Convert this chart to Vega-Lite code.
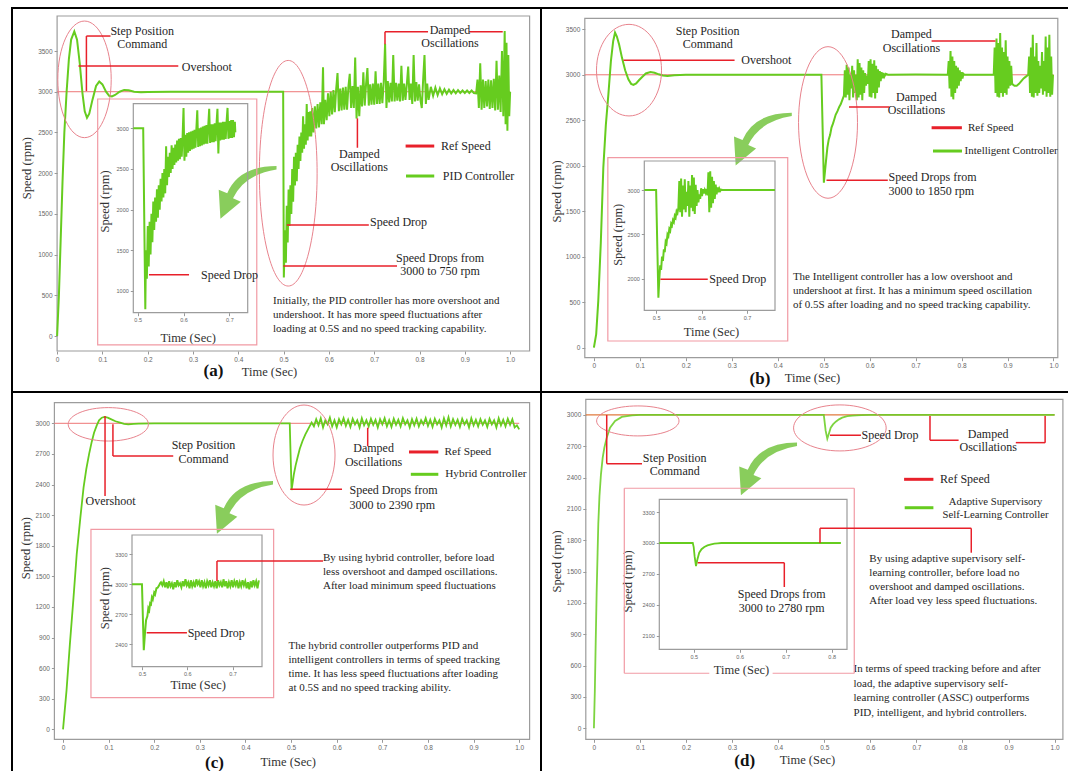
{
"$schema":"https://vega.github.io/schema/vega-lite/v6.json",
"background":"white",
"padding":{"left":11,"top":7,"right":0,"bottom":0},
"bounds":"flush",
"spacing":0,
"columns":2,
"config":{
 "view":{"stroke":"#000","strokeWidth":2},
 "axis":{"grid":false,"domain":false,"labelFont":"Liberation Sans","labelFontSize":6.5,"labelColor":"#666","tickColor":"#999","tickSize":3,"labelPadding":2,"labelFlush":false,"labelOverlap":false,"titleFont":"Liberation Serif","titleFontSize":12.5,"titleFontWeight":"normal","titleColor":"#333"},
 "axisX":{"titleAlign":"center","titleBaseline":"middle"},
 "axisY":{"titleAngle":270,"titleAlign":"center","titleBaseline":"middle"},
 "style":{"guide-title":{"font":"Liberation Serif","fontWeight":"normal","fontSize":12.5,"fill":"#333"}},
 "text":{"font":"Liberation Serif","color":"#262626","baseline":"middle"}
},
"datasets":{
"one":[{}],
"a_s":[{"t":0,"v":0},{"t":0.004,"v":500},{"t":0.008,"v":1200},{"t":0.012,"v":1900},{"t":0.016,"v":2500},{"t":0.021,"v":3000},{"t":0.026,"v":3400},{"t":0.031,"v":3640},{"t":0.038,"v":3740},{"t":0.044,"v":3640},{"t":0.05,"v":3350},{"t":0.056,"v":2980},{"t":0.061,"v":2760},{"t":0.066,"v":2680},{"t":0.071,"v":2730},{"t":0.078,"v":2900},{"t":0.086,"v":3070},{"t":0.093,"v":3125},{"t":0.1,"v":3090},{"t":0.108,"v":3000},{"t":0.115,"v":2950},{"t":0.121,"v":2942},{"t":0.128,"v":2960},{"t":0.138,"v":3000},{"t":0.148,"v":3022},{"t":0.158,"v":3018},{"t":0.17,"v":3000},{"t":0.185,"v":2993},{"t":0.2,"v":2998},{"t":0.25,"v":3001},{"t":0.499,"v":3000},{"t":0.5005,"v":720},
{"t":0.503,"v":1300},{"t":0.505,"v":900},{"t":0.507,"v":1600},{"t":0.509,"v":1150},{"t":0.511,"v":1800},{"t":0.513,"v":1350},{"t":0.515,"v":1850},{"t":0.517,"v":1500},{"t":0.519,"v":2050},{"t":0.521,"v":1650},{"t":0.523,"v":2200},{"t":0.525,"v":1850},{"t":0.527,"v":2250},{"t":0.529,"v":1900},{"t":0.531,"v":2350},{"t":0.533,"v":2050},{"t":0.535,"v":2450},{"t":0.537,"v":2150},{"t":0.539,"v":2500},{"t":0.541,"v":2250},{"t":0.543,"v":2700},{"t":0.545,"v":2300},{"t":0.547,"v":2600},{"t":0.549,"v":2350},{"t":0.551,"v":2850},{"t":0.553,"v":2400},{"t":0.555,"v":2750},{"t":0.557,"v":2450},{"t":0.559,"v":2760},{"t":0.561,"v":2450},{"t":0.563,"v":2800},{"t":0.566,"v":2500},{"t":0.569,"v":2820},{"t":0.572,"v":2550},{"t":0.575,"v":2850},{"t":0.578,"v":2560},{"t":0.581,"v":2870},{"t":0.584,"v":2600},{"t":0.587,"v":3300},{"t":0.589,"v":2600},{"t":0.592,"v":2900},{"t":0.595,"v":2650},{"t":0.598,"v":2980},{"t":0.601,"v":2700},{"t":0.604,"v":3000},{"t":0.607,"v":2720},{"t":0.61,"v":3020},{"t":0.613,"v":2750},{"t":0.616,"v":3030},{"t":0.619,"v":3230},{"t":0.622,"v":2760},{"t":0.625,"v":3040},{"t":0.628,"v":2770},{"t":0.631,"v":3050},{"t":0.634,"v":2780},{"t":0.637,"v":3060},{"t":0.64,"v":2780},{"t":0.643,"v":3060},{"t":0.646,"v":3220},{"t":0.649,"v":2800},{"t":0.652,"v":3070},{"t":0.655,"v":2800},{"t":0.658,"v":3420},{"t":0.661,"v":2670},{"t":0.664,"v":3060},{"t":0.667,"v":2700},{"t":0.67,"v":3080},{"t":0.673,"v":2820},{"t":0.676,"v":3240},{"t":0.679,"v":2830},{"t":0.682,"v":3090},{"t":0.685,"v":3290},{"t":0.688,"v":2830},{"t":0.691,"v":3090},{"t":0.694,"v":2840},{"t":0.697,"v":3100},{"t":0.7,"v":2840},{"t":0.703,"v":3250},{"t":0.706,"v":2850},{"t":0.709,"v":3100},{"t":0.712,"v":2850},{"t":0.715,"v":3110},{"t":0.718,"v":2860},{"t":0.721,"v":3120},{"t":0.724,"v":3590},{"t":0.727,"v":2800},{"t":0.73,"v":3130},{"t":0.733,"v":2870},{"t":0.736,"v":3110},{"t":0.739,"v":2880},{"t":0.742,"v":3450},{"t":0.745,"v":2880},{"t":0.748,"v":3110},{"t":0.751,"v":2890},{"t":0.754,"v":3100},{"t":0.757,"v":2880},{"t":0.76,"v":3320},{"t":0.763,"v":2890},{"t":0.766,"v":3100},{"t":0.769,"v":2900},{"t":0.772,"v":3090},{"t":0.775,"v":3310},{"t":0.778,"v":2900},{"t":0.781,"v":3100},{"t":0.784,"v":2850},{"t":0.787,"v":3450},{"t":0.79,"v":2880},{"t":0.793,"v":3120},{"t":0.796,"v":2890},{"t":0.799,"v":3090},{"t":0.802,"v":2900},{"t":0.805,"v":2800},{"t":0.808,"v":3150},{"t":0.811,"v":3450},{"t":0.814,"v":2850},{"t":0.817,"v":3100},{"t":0.82,"v":2900},{"t":0.825,"v":3060},{"t":0.83,"v":2950},{"t":0.835,"v":3050},{"t":0.84,"v":2960},{"t":0.845,"v":3040},{"t":0.85,"v":2970},{"t":0.855,"v":3030},{"t":0.86,"v":2975},{"t":0.865,"v":3025},{"t":0.87,"v":2980},{"t":0.875,"v":3020},{"t":0.88,"v":2980},{"t":0.885,"v":3020},{"t":0.89,"v":2985},{"t":0.895,"v":3015},{"t":0.9,"v":2985},{"t":0.905,"v":3015},{"t":0.91,"v":2985},{"t":0.915,"v":3015},{"t":0.92,"v":2985},{"t":0.925,"v":2980},{"t":0.928,"v":3150},{"t":0.931,"v":2800},{"t":0.934,"v":3350},{"t":0.937,"v":2780},{"t":0.94,"v":3150},{"t":0.943,"v":2800},{"t":0.946,"v":3130},{"t":0.949,"v":2820},{"t":0.952,"v":3150},{"t":0.955,"v":2790},{"t":0.958,"v":3140},{"t":0.961,"v":2800},{"t":0.964,"v":3160},{"t":0.967,"v":2770},{"t":0.97,"v":3380},{"t":0.973,"v":2780},{"t":0.976,"v":3200},{"t":0.979,"v":2750},{"t":0.982,"v":3500},{"t":0.985,"v":2700},{"t":0.988,"v":3745},{"t":0.99,"v":2600},{"t":0.992,"v":3600},{"t":0.994,"v":2520},{"t":0.996,"v":3450},{"t":0.998,"v":2700},{"t":1.0,"v":3000}],
"a_i":[{"t":0.4904,"v":3000},{"t":0.512,"v":3000},{"t":0.5166,"v":775},{"t":0.518,"v":1500},{"t":0.52,"v":1150},{"t":0.522,"v":1800},{"t":0.524,"v":1300},{"t":0.526,"v":1850},{"t":0.528,"v":1450},{"t":0.53,"v":1950},{"t":0.532,"v":1600},{"t":0.534,"v":2100},{"t":0.536,"v":1750},{"t":0.538,"v":2150},{"t":0.54,"v":1850},{"t":0.542,"v":2250},{"t":0.544,"v":1900},{"t":0.546,"v":2300},{"t":0.548,"v":2000},{"t":0.55,"v":2380},{"t":0.552,"v":2100},{"t":0.554,"v":2450},{"t":0.556,"v":2150},{"t":0.558,"v":2500},{"t":0.56,"v":2200},{"t":0.562,"v":2780},{"t":0.564,"v":2300},{"t":0.566,"v":2650},{"t":0.568,"v":2400},{"t":0.57,"v":2700},{"t":0.572,"v":2450},{"t":0.574,"v":2790},{"t":0.576,"v":2500},{"t":0.578,"v":2760},{"t":0.58,"v":2550},{"t":0.582,"v":2800},{"t":0.584,"v":2580},{"t":0.586,"v":2850},{"t":0.588,"v":2600},{"t":0.59,"v":2870},{"t":0.592,"v":2620},{"t":0.594,"v":2880},{"t":0.596,"v":2650},{"t":0.598,"v":2900},{"t":0.6,"v":3250},{"t":0.602,"v":2600},{"t":0.604,"v":2920},{"t":0.606,"v":2650},{"t":0.608,"v":2940},{"t":0.61,"v":2700},{"t":0.612,"v":2950},{"t":0.614,"v":2720},{"t":0.616,"v":2960},{"t":0.618,"v":2740},{"t":0.62,"v":2970},{"t":0.622,"v":2750},{"t":0.624,"v":2980},{"t":0.626,"v":2760},{"t":0.628,"v":2990},{"t":0.63,"v":3220},{"t":0.632,"v":2770},{"t":0.634,"v":3000},{"t":0.636,"v":2780},{"t":0.638,"v":3010},{"t":0.64,"v":2790},{"t":0.642,"v":3020},{"t":0.644,"v":2800},{"t":0.646,"v":3030},{"t":0.648,"v":2810},{"t":0.65,"v":3040},{"t":0.652,"v":2810},{"t":0.654,"v":3040},{"t":0.656,"v":3240},{"t":0.658,"v":2820},{"t":0.66,"v":3050},{"t":0.662,"v":2830},{"t":0.664,"v":3050},{"t":0.666,"v":2830},{"t":0.668,"v":3060},{"t":0.67,"v":2840},{"t":0.672,"v":3060},{"t":0.674,"v":3240},{"t":0.676,"v":2690},{"t":0.678,"v":3070},{"t":0.68,"v":2850},{"t":0.682,"v":3070},{"t":0.684,"v":2860},{"t":0.686,"v":3080},{"t":0.688,"v":2860},{"t":0.69,"v":3080},{"t":0.692,"v":2870},{"t":0.694,"v":3090},{"t":0.696,"v":3250},{"t":0.698,"v":2870},{"t":0.7,"v":3090},{"t":0.702,"v":2880},{"t":0.704,"v":3100},{"t":0.706,"v":2880},{"t":0.708,"v":3100},{"t":0.71,"v":2890},{"t":0.712,"v":3080},{"t":0.713,"v":2950}],
"a_tc":[{"x":0.188,"y":3745,"text":"Step Position"},{"x":0.188,"y":3586,"text":"Command"},{"x":0.8673,"y":3764,"text":"Damped"},{"x":0.8673,"y":3594,"text":"Oscillations"},{"x":0.6671,"y":2239,"text":"Damped"},{"x":0.6671,"y":2075,"text":"Oscillations"},{"x":0.8452,"y":962,"text":"Speed Drops from"},{"x":0.8452,"y":798,"text":"3000 to 750 rpm"}],
"a_tl":[{"x":0.2753,"y":3303,"text":"Overshoot"},{"x":0.6909,"y":1400,"text":"Speed Drop"},{"x":0.8475,"y":2333,"text":"Ref Speed"},{"x":0.8512,"y":1965,"text":"PID Controller"}],
"a_p":[{"x":0.4766,"y":430,"text":"Initially, the PID controller has more overshoot and"},{"x":0.4766,"y":258,"text":"undershoot. It has more speed fluctuations after"},{"x":0.4766,"y":86,"text":"loading at 0.5S and no speed tracking capability."}],
"a_r":[{"x":0.0647,"y":3684,"x2":0.1179,"y2":3684},{"x":0.0647,"y":3684,"x2":0.0647,"y2":3009},{"x":0.0472,"y":3316,"x2":0.2675,"y2":3316},{"x":0.7238,"y":3737,"x2":0.7238,"y2":3582},{"x":0.7238,"y":3737,"x2":0.8188,"y2":3737},{"x":0.91,"y":3737,"x2":0.9837,"y2":3737},{"x":0.6629,"y":2673,"x2":0.6629,"y2":2312},{"x":0.5071,"y":1363,"x2":0.6881,"y2":1363},{"x":0.4996,"y":860,"x2":0.7503,"y2":860}],
"a_lg":[{"x":0.7693,"x2":0.8325,"y":2333,"k":"ref"},{"x":0.7702,"x2":0.8325,"y":1965,"k":"ctrl"}],
"a_ir":[{"x":0.5247,"y":1198,"x2":0.612,"y2":1198}],
"a_it":[{"x":0.6382,"y":1198,"text":"Speed Drop"}],
"b_s":[{"t":0,"v":0},{"t":0.005,"v":150},{"t":0.0095,"v":513},{"t":0.015,"v":1150},{"t":0.0205,"v":1979},{"t":0.026,"v":2450},{"t":0.0315,"v":2785},{"t":0.037,"v":3150},{"t":0.042,"v":3372},{"t":0.046,"v":3463},{"t":0.05,"v":3420},{"t":0.055,"v":3330},{"t":0.061,"v":3189},{"t":0.068,"v":3050},{"t":0.075,"v":2950},{"t":0.081,"v":2900},{"t":0.086,"v":2888},{"t":0.092,"v":2905},{"t":0.098,"v":2940},{"t":0.105,"v":2976},{"t":0.113,"v":3015},{"t":0.123,"v":3031},{"t":0.132,"v":3022},{"t":0.141,"v":3005},{"t":0.15,"v":2992},{"t":0.16,"v":2987},{"t":0.175,"v":2995},{"t":0.2,"v":3000},{"t":0.495,"v":3000},{"t":0.5004,"v":1814},{"t":0.503,"v":1950},{"t":0.505,"v":2050},{"t":0.508,"v":2199},{"t":0.511,"v":2290},{"t":0.514,"v":2340},{"t":0.517,"v":2420},{"t":0.52,"v":2460},{"t":0.522,"v":2492},{"t":0.526,"v":2560},{"t":0.53,"v":2600},{"t":0.534,"v":2650},{"t":0.537,"v":2675},{"t":0.541,"v":2730},{"t":0.544,"v":2770},{"t":0.546,"v":3050},{"t":0.548,"v":2750},{"t":0.55,"v":3110},{"t":0.552,"v":2780},{"t":0.554,"v":3080},{"t":0.556,"v":2720},{"t":0.558,"v":3000},{"t":0.56,"v":2850},{"t":0.562,"v":3100},{"t":0.564,"v":2750},{"t":0.566,"v":3050},{"t":0.568,"v":2800},{"t":0.57,"v":3000},{"t":0.572,"v":2720},{"t":0.574,"v":3170},{"t":0.576,"v":2750},{"t":0.578,"v":3130},{"t":0.58,"v":2780},{"t":0.582,"v":3080},{"t":0.584,"v":2720},{"t":0.586,"v":3050},{"t":0.588,"v":2800},{"t":0.59,"v":3020},{"t":0.592,"v":2880},{"t":0.594,"v":2990},{"t":0.596,"v":2900},{"t":0.598,"v":3150},{"t":0.6,"v":2760},{"t":0.602,"v":3170},{"t":0.604,"v":2750},{"t":0.606,"v":3120},{"t":0.608,"v":2800},{"t":0.61,"v":3160},{"t":0.612,"v":2740},{"t":0.614,"v":3100},{"t":0.616,"v":2800},{"t":0.618,"v":3060},{"t":0.62,"v":2860},{"t":0.622,"v":3040},{"t":0.624,"v":2930},{"t":0.626,"v":3030},{"t":0.628,"v":2960},{"t":0.63,"v":3020},{"t":0.632,"v":2980},{"t":0.635,"v":3010},{"t":0.64,"v":3000},{"t":0.7,"v":3002},{"t":0.77,"v":3000},{"t":0.772,"v":3150},{"t":0.774,"v":2850},{"t":0.776,"v":3260},{"t":0.778,"v":2760},{"t":0.78,"v":3200},{"t":0.782,"v":2730},{"t":0.784,"v":3150},{"t":0.786,"v":2800},{"t":0.788,"v":3100},{"t":0.79,"v":2850},{"t":0.792,"v":3080},{"t":0.794,"v":2880},{"t":0.796,"v":3050},{"t":0.798,"v":2930},{"t":0.8,"v":3030},{"t":0.802,"v":2960},{"t":0.804,"v":3010},{"t":0.806,"v":3000},{"t":0.868,"v":3000},{"t":0.87,"v":3000},{"t":0.872,"v":3300},{"t":0.874,"v":2800},{"t":0.876,"v":3400},{"t":0.878,"v":2760},{"t":0.88,"v":3350},{"t":0.882,"v":2750},{"t":0.884,"v":3460},{"t":0.886,"v":2800},{"t":0.888,"v":3300},{"t":0.89,"v":2760},{"t":0.892,"v":3250},{"t":0.894,"v":2800},{"t":0.896,"v":3380},{"t":0.898,"v":2780},{"t":0.9,"v":3200},{"t":0.902,"v":2850},{"t":0.904,"v":3150},{"t":0.906,"v":2880},{"t":0.908,"v":3100},{"t":0.91,"v":2900},{"t":0.915,"v":2880},{"t":0.92,"v":2880},{"t":0.925,"v":2900},{"t":0.93,"v":2930},{"t":0.935,"v":2960},{"t":0.94,"v":2980},{"t":0.945,"v":3000},{"t":0.947,"v":3200},{"t":0.949,"v":2800},{"t":0.951,"v":3300},{"t":0.953,"v":2760},{"t":0.955,"v":3440},{"t":0.957,"v":2750},{"t":0.959,"v":3200},{"t":0.961,"v":2800},{"t":0.963,"v":3350},{"t":0.965,"v":2770},{"t":0.967,"v":3150},{"t":0.969,"v":2800},{"t":0.971,"v":3100},{"t":0.973,"v":2850},{"t":0.975,"v":3250},{"t":0.977,"v":2780},{"t":0.979,"v":3150},{"t":0.981,"v":2820},{"t":0.983,"v":3420},{"t":0.985,"v":2760},{"t":0.987,"v":3300},{"t":0.989,"v":2800},{"t":0.991,"v":3440},{"t":0.993,"v":2760},{"t":0.995,"v":3200},{"t":0.997,"v":2780},{"t":0.999,"v":3000}],
"b_i":[{"t":0.474,"v":3000},{"t":0.5,"v":3000},{"t":0.505,"v":1786},{"t":0.507,"v":2000},{"t":0.509,"v":2150},{"t":0.511,"v":2100},{"t":0.513,"v":2250},{"t":0.515,"v":2200},{"t":0.517,"v":2330},{"t":0.519,"v":2300},{"t":0.521,"v":2420},{"t":0.523,"v":2400},{"t":0.525,"v":2500},{"t":0.527,"v":2480},{"t":0.529,"v":2560},{"t":0.531,"v":2540},{"t":0.533,"v":2620},{"t":0.535,"v":2600},{"t":0.537,"v":2660},{"t":0.539,"v":2640},{"t":0.541,"v":2710},{"t":0.543,"v":2690},{"t":0.545,"v":2760},{"t":0.547,"v":2740},{"t":0.549,"v":2800},{"t":0.551,"v":3100},{"t":0.553,"v":2750},{"t":0.555,"v":3130},{"t":0.557,"v":2700},{"t":0.559,"v":3050},{"t":0.561,"v":2780},{"t":0.563,"v":3120},{"t":0.565,"v":2750},{"t":0.567,"v":2980},{"t":0.569,"v":2820},{"t":0.571,"v":3100},{"t":0.573,"v":2700},{"t":0.575,"v":3050},{"t":0.577,"v":2800},{"t":0.579,"v":3170},{"t":0.581,"v":2760},{"t":0.583,"v":3140},{"t":0.585,"v":2730},{"t":0.587,"v":3060},{"t":0.589,"v":2820},{"t":0.591,"v":3000},{"t":0.593,"v":2860},{"t":0.595,"v":2950},{"t":0.597,"v":2900},{"t":0.599,"v":3020},{"t":0.601,"v":2930},{"t":0.603,"v":3010},{"t":0.605,"v":2960},{"t":0.607,"v":3000},{"t":0.609,"v":2970},{"t":0.611,"v":3010},{"t":0.613,"v":2940},{"t":0.615,"v":3200},{"t":0.617,"v":2750},{"t":0.619,"v":3210},{"t":0.621,"v":2800},{"t":0.623,"v":3150},{"t":0.625,"v":2850},{"t":0.627,"v":3100},{"t":0.629,"v":2900},{"t":0.631,"v":3060},{"t":0.633,"v":2950},{"t":0.635,"v":3030},{"t":0.637,"v":2975},{"t":0.639,"v":3015},{"t":0.641,"v":2990},{"t":0.643,"v":3005},{"t":0.646,"v":3000},{"t":0.7615,"v":3000}],
"b_tc":[{"x":0.2476,"y":3482,"text":"Step Position"},{"x":0.2476,"y":3335,"text":"Command"},{"x":0.6908,"y":3445,"text":"Damped"},{"x":0.6908,"y":3291,"text":"Oscillations"},{"x":0.7017,"y":2759,"text":"Damped"},{"x":0.7017,"y":2613,"text":"Oscillations"}],
"b_tl":[{"x":0.3207,"y":3159,"text":"Overshoot"},{"x":0.641,"y":1877,"text":"Speed Drops from"},{"x":0.641,"y":1723,"text":"3000 to 1850 rpm"}],
"b_lt":[{"x":0.814,"y":2418,"text":"Ref Speed"},{"x":0.8066,"y":2162,"text":"Intelligent Controller"}],
"b_p":[{"x":0.433,"y":777,"text":"The Intelligent controller has a low overshoot and"},{"x":0.433,"y":623,"text":"undershoot at first. It has a minimum speed  oscillation"},{"x":0.433,"y":469,"text":"of 0.5S after loading and no speed tracking capability."}],
"b_r":[{"x":0.0644,"y":3159,"x2":0.3061,"y2":3159},{"x":0.7348,"y":3372,"x2":0.8738,"y2":3372},{"x":0.555,"y":2646,"x2":0.6432,"y2":2646},{"x":0.5061,"y":1840,"x2":0.6395,"y2":1840}],
"b_lg":[{"x":0.7348,"x2":0.8007,"y":2418,"k":"ref"},{"x":0.7378,"x2":0.8009,"y":2162,"k":"ctrl"}],
"b_ir":[{"x":0.5095,"y":1993,"x2":0.6136,"y2":1993}],
"b_it":[{"x":0.6171,"y":1993,"text":"Speed Drop"}],
"c_s":[{"t":0,"v":0},{"t":0.0076,"v":376},{"t":0.015,"v":833},{"t":0.023,"v":1291},{"t":0.03,"v":1716},{"t":0.038,"v":2075},{"t":0.045,"v":2369},{"t":0.051,"v":2550},{"t":0.057,"v":2696},{"t":0.063,"v":2820},{"t":0.068,"v":2908},{"t":0.074,"v":2980},{"t":0.079,"v":3029},{"t":0.085,"v":3055},{"t":0.091,"v":3062},{"t":0.098,"v":3055},{"t":0.106,"v":3039},{"t":0.115,"v":3020},{"t":0.125,"v":3007},{"t":0.134,"v":2995},{"t":0.143,"v":2990},{"t":0.155,"v":2994},{"t":0.166,"v":2997},{"t":0.2,"v":3000},{"t":0.497,"v":3000},{"t":0.501,"v":2346},{"t":0.506,"v":2500},{"t":0.51,"v":2590},{"t":0.514,"v":2663},{"t":0.519,"v":2750},{"t":0.525,"v":2827},{"t":0.531,"v":2890},{"t":0.537,"v":2941},{"t":0.541,"v":2975},{"t":0.545,"v":3007},{"t":0.55,"v":2970},{"t":0.555,"v":3040},{"t":0.56,"v":2980},{"t":0.565,"v":3050},{"t":0.57,"v":2960},{"t":0.575,"v":3030},{"t":0.58,"v":2990},{"t":0.585,"v":3055},{"t":0.59,"v":2970},{"t":0.595,"v":3030},{"t":0.6,"v":2960},{"t":0.605,"v":3040},{"t":0.61,"v":2990},{"t":0.615,"v":3050},{"t":0.62,"v":2975},{"t":0.625,"v":3035},{"t":0.63,"v":2965},{"t":0.635,"v":3045},{"t":0.64,"v":2990},{"t":0.645,"v":3030},{"t":0.65,"v":2960},{"t":0.655,"v":3050},{"t":0.66,"v":2980},{"t":0.665,"v":3030},{"t":0.67,"v":2970},{"t":0.675,"v":3045},{"t":0.68,"v":2985},{"t":0.685,"v":3035},{"t":0.69,"v":2960},{"t":0.695,"v":3040},{"t":0.7,"v":2990},{"t":0.705,"v":3050},{"t":0.71,"v":2970},{"t":0.715,"v":3030},{"t":0.72,"v":2965},{"t":0.725,"v":3045},{"t":0.73,"v":2985},{"t":0.735,"v":3035},{"t":0.74,"v":2970},{"t":0.745,"v":3050},{"t":0.75,"v":2990},{"t":0.755,"v":3030},{"t":0.76,"v":2960},{"t":0.765,"v":3040},{"t":0.77,"v":2980},{"t":0.775,"v":3045},{"t":0.78,"v":2970},{"t":0.785,"v":3030},{"t":0.79,"v":2990},{"t":0.795,"v":3050},{"t":0.8,"v":2975},{"t":0.805,"v":3035},{"t":0.81,"v":2965},{"t":0.815,"v":3045},{"t":0.82,"v":2990},{"t":0.825,"v":3030},{"t":0.83,"v":2960},{"t":0.835,"v":3050},{"t":0.84,"v":2980},{"t":0.845,"v":3060},{"t":0.85,"v":2970},{"t":0.855,"v":3040},{"t":0.86,"v":2985},{"t":0.865,"v":3035},{"t":0.87,"v":2965},{"t":0.875,"v":3045},{"t":0.88,"v":2990},{"t":0.885,"v":3030},{"t":0.89,"v":2960},{"t":0.895,"v":3050},{"t":0.9,"v":2980},{"t":0.905,"v":3035},{"t":0.91,"v":2970},{"t":0.915,"v":3040},{"t":0.92,"v":2985},{"t":0.925,"v":3030},{"t":0.93,"v":2965},{"t":0.935,"v":3045},{"t":0.94,"v":2990},{"t":0.945,"v":3030},{"t":0.95,"v":2960},{"t":0.955,"v":3050},{"t":0.96,"v":2980},{"t":0.965,"v":3035},{"t":0.97,"v":2970},{"t":0.975,"v":3045},{"t":0.98,"v":2985},{"t":0.985,"v":3040},{"t":0.99,"v":2960},{"t":0.995,"v":2980},{"t":1.0,"v":2940}],
"c_i":[{"t":0.478,"v":3000},{"t":0.5,"v":3000},{"t":0.504,"v":2340},{"t":0.507,"v":2533},{"t":0.509,"v":2640},{"t":0.512,"v":2683},{"t":0.514,"v":2760},{"t":0.516,"v":2740},{"t":0.518,"v":2810},{"t":0.52,"v":2800},{"t":0.522,"v":2870},{"t":0.524,"v":2850},{"t":0.527,"v":2917},{"t":0.529,"v":2900},{"t":0.532,"v":2960},{"t":0.535,"v":2967},{"t":0.538,"v":2990},{"t":0.54,"v":3010},{"t":0.542,"v":3020},{"t":0.545,"v":2990},{"t":0.548,"v":3030},{"t":0.551,"v":2970},{"t":0.554,"v":3020},{"t":0.557,"v":2960},{"t":0.56,"v":3030},{"t":0.563,"v":2980},{"t":0.566,"v":3010},{"t":0.569,"v":2950},{"t":0.572,"v":3020},{"t":0.575,"v":2970},{"t":0.578,"v":3040},{"t":0.581,"v":2990},{"t":0.584,"v":3010},{"t":0.587,"v":2970},{"t":0.59,"v":3030},{"t":0.593,"v":2980},{"t":0.596,"v":3050},{"t":0.599,"v":2990},{"t":0.602,"v":3020},{"t":0.605,"v":2960},{"t":0.608,"v":3040},{"t":0.611,"v":2980},{"t":0.614,"v":3020},{"t":0.617,"v":2970},{"t":0.62,"v":3050},{"t":0.623,"v":3000},{"t":0.626,"v":3030},{"t":0.629,"v":2970},{"t":0.632,"v":3040},{"t":0.635,"v":2980},{"t":0.638,"v":3020},{"t":0.641,"v":2960},{"t":0.644,"v":3030},{"t":0.647,"v":2990},{"t":0.65,"v":3040},{"t":0.653,"v":2970},{"t":0.656,"v":3020},{"t":0.659,"v":2980},{"t":0.662,"v":3030},{"t":0.665,"v":2960},{"t":0.668,"v":3040},{"t":0.671,"v":2990},{"t":0.674,"v":3020},{"t":0.677,"v":2970},{"t":0.68,"v":3050},{"t":0.683,"v":2980},{"t":0.686,"v":3030},{"t":0.689,"v":2960},{"t":0.692,"v":3020},{"t":0.695,"v":2980},{"t":0.698,"v":3040},{"t":0.701,"v":2970},{"t":0.704,"v":3030},{"t":0.707,"v":2990},{"t":0.71,"v":3040},{"t":0.713,"v":2960},{"t":0.716,"v":3020},{"t":0.719,"v":2980},{"t":0.722,"v":3040},{"t":0.725,"v":2990},{"t":0.728,"v":3030},{"t":0.731,"v":2960},{"t":0.734,"v":3020},{"t":0.737,"v":2950},{"t":0.74,"v":3030},{"t":0.743,"v":2970},{"t":0.746,"v":3040},{"t":0.749,"v":2990},{"t":0.752,"v":3030},{"t":0.755,"v":2960},{"t":0.758,"v":3040}],
"c_tc":[{"x":0.1041,"y":2238,"text":"Overshoot"},{"x":0.308,"y":2787,"text":"Step Position"},{"x":0.308,"y":2650,"text":"Command"},{"x":0.6808,"y":2755,"text":"Damped"},{"x":0.6808,"y":2621,"text":"Oscillations"}],
"c_tl":[{"x":0.628,"y":2346,"text":"Speed Drops from"},{"x":0.628,"y":2202,"text":"3000 to 2390 rpm"}],
"c_lt":[{"x":0.8363,"y":2719,"text":"Ref Speed"},{"x":0.8378,"y":2500,"text":"Hybrid Controller"}],
"c_p":[{"x":0.5699,"y":1682,"text":"By using hybrid controller, before load"},{"x":0.5699,"y":1545,"text":"less overshoot and damped oscillations."},{"x":0.5699,"y":1408,"text":"After load minimum speed fluctuations"},{"x":0.4943,"y":817,"text":"The hybrid controller outperforms PID and"},{"x":0.4943,"y":679,"text":"intelligent controllers in terms of speed tracking"},{"x":0.4943,"y":539,"text":"time. It has less speed fluctuations after loading"},{"x":0.4943,"y":408,"text":"at 0.5S and no speed tracking ability."}],
"c_r":[{"x":0.0921,"y":3072,"x2":0.0921,"y2":2287},{"x":0.1094,"y":2990,"x2":0.1094,"y2":2679},{"x":0.1094,"y":2679,"x2":0.2416,"y2":2679},{"x":0.4982,"y":2353,"x2":0.6116,"y2":2353},{"x":0.6679,"y":2957,"x2":0.6679,"y2":2777}],
"c_lg":[{"x":0.7584,"x2":0.8227,"y":2719,"k":"ref"},{"x":0.7624,"x2":0.8227,"y":2500,"k":"ctrl"}],
"c_ir":[{"x":0.5104,"y":2516,"x2":0.5993,"y2":2516},{"x":0.6656,"y":3033,"x2":0.6656,"y2":3233},{"x":0.6656,"y":3233,"x2":0.8996,"y2":3233}],
"c_it":[{"x":0.6009,"y":2516,"text":"Speed Drop"}],
"d_s":[{"t":0,"v":0},{"t":0.002,"v":357},{"t":0.004,"v":850},{"t":0.006,"v":1315},{"t":0.008,"v":1680},{"t":0.0095,"v":1953},{"t":0.012,"v":2220},{"t":0.0153,"v":2432},{"t":0.019,"v":2590},{"t":0.0227,"v":2687},{"t":0.0278,"v":2783},{"t":0.035,"v":2878},{"t":0.046,"v":2942},{"t":0.0606,"v":2981},{"t":0.0826,"v":2997},{"t":0.1,"v":3000},{"t":0.499,"v":3000},{"t":0.503,"v":2850},{"t":0.5066,"v":2773},{"t":0.51,"v":2820},{"t":0.514,"v":2878},{"t":0.519,"v":2910},{"t":0.525,"v":2936},{"t":0.532,"v":2958},{"t":0.539,"v":2974},{"t":0.55,"v":2988},{"t":0.561,"v":2994},{"t":0.58,"v":2999},{"t":0.6,"v":3000},{"t":1.0,"v":3000}],
"d_i":[{"t":0.4252,"v":3000},{"t":0.498,"v":3000},{"t":0.5,"v":2960},{"t":0.502,"v":2870},{"t":0.505,"v":2777},{"t":0.508,"v":2840},{"t":0.512,"v":2906},{"t":0.517,"v":2940},{"t":0.523,"v":2961},{"t":0.53,"v":2977},{"t":0.538,"v":2987},{"t":0.545,"v":2994},{"t":0.552,"v":2997},{"t":0.56,"v":3000},{"t":0.82,"v":3000}],
"d_tc":[{"x":0.1754,"y":2591,"text":"Step Position"},{"x":0.1754,"y":2461,"text":"Command"},{"x":0.8558,"y":2821,"text":"Damped"},{"x":0.8558,"y":2694,"text":"Oscillations"}],
"d_tl":[{"x":0.581,"y":2806,"text":"Speed Drop"},{"x":0.7514,"y":2384,"text":"Ref Speed"}],
"d_lc":[{"x":0.8719,"y":2167,"text":"Adaptive Supervisory"},{"x":0.8719,"y":2043,"text":"Self-Learning Controller"}],
"d_p":[{"x":0.5979,"y":1624,"text":"By using adaptive supervisory self-"},{"x":0.5979,"y":1490,"text":"learning controller, before load no"},{"x":0.5979,"y":1356,"text":"overshoot and damped oscillations."},{"x":0.5979,"y":1219,"text":"After load vey less speed fluctuations."},{"x":0.5636,"y":565,"text":"In terms of speed tracking before and after"},{"x":0.5636,"y":421,"text":"load, the adaptive supervisory self-"},{"x":0.5636,"y":287,"text":"learning controller (ASSC) outperforms"},{"x":0.5636,"y":149,"text":"PID, intelligent, and hybrid controllers."}],
"d_r":[{"x":0.0278,"y":3000,"x2":0.0278,"y2":2534},{"x":0.0278,"y":2534,"x2":0.1044,"y2":2534},{"x":0.5124,"y":2806,"x2":0.5797,"y2":2806},{"x":0.7295,"y":2991,"x2":0.7295,"y2":2758},{"x":0.7295,"y":2758,"x2":0.7916,"y2":2758},{"x":0.9158,"y":2735,"x2":0.9794,"y2":2735},{"x":0.9794,"y":2735,"x2":0.9794,"y2":2991}],
"d_lg":[{"x":0.6733,"x2":0.7369,"y":2384,"k":"ref"},{"x":0.6746,"x2":0.7369,"y":2112,"k":"ctrl"}],
"d_ir":[{"x":0.5087,"y":2809,"x2":0.697,"y2":2809},{"x":0.697,"y":2809,"x2":0.697,"y2":2574},{"x":0.7746,"y":3000,"x2":0.7746,"y2":3142},{"x":0.7746,"y":3142,"x2":1.1035,"y2":3142},{"x":1.1035,"y":3142,"x2":1.1035,"y2":2906}],
"d_it":[{"x":0.6913,"y":2509,"text":"Speed Drops from"},{"x":0.6913,"y":2374,"text":"3000 to 2780 rpm"}],
"d_pk":[{"x":0.3491,"y":1739,"x2":0.3491,"y2":3530},{"x":0.3491,"y":3530,"x2":0.8491,"y2":3530},{"x":0.8491,"y":3530,"x2":0.8491,"y2":1739},{"x":0.3491,"y":1739,"x2":0.5339,"y2":1739},{"x":0.6716,"y":1739,"x2":0.8491,"y2":1739}]
},
"concat":[
{"width":529,"height":384,"view":{"stroke":"#000","strokeWidth":2},
 "resolve":{"scale":{"x":"independent","y":"independent"},"axis":{"x":"independent","y":"independent"}},
 "layer":[
  {"data":{"name":"one"},"mark":{"type":"rect","filled":false,"stroke":"#9c9c9c","strokeWidth":1.2},"encoding":{"x":{"datum":0,"type":"quantitative","scale":{"domain":[0,1.043],"range":[45.1,517.6],"nice":false,"zero":false},"axis":null},"x2":{"datum":1.043},"y":{"datum":-184,"type":"quantitative","scale":{"domain":[-184,3930],"range":[343,8],"nice":false,"zero":false},"axis":null},"y2":{"datum":3930}}},
  {"data":{"name":"one"},"mark":{"type":"rule","color":"#ee7676","strokeWidth":1},"encoding":{"x":{"datum":0,"type":"quantitative","scale":{"domain":[0,1.043],"range":[45.1,517.6],"nice":false,"zero":false},"axis":null},"x2":{"datum":1},"y":{"datum":3000,"type":"quantitative","scale":{"domain":[-184,3930],"range":[343,8],"nice":false,"zero":false},"axis":null}}},
  {"data":{"name":"a_s"},"mark":{"type":"line","color":"#66cc1f","strokeWidth":2},"encoding":{"x":{"field":"t","type":"quantitative","scale":{"domain":[0,1.043],"range":[45.1,517.6],"nice":false,"zero":false},"axis":{"orient":"bottom","offset":-41,"values":[0,0.1,0.2,0.3,0.4,0.5,0.6,0.7,0.8,0.9,1],"labelExpr":"datum.value==0?'0':format(datum.value,'.1f')","title":"Time (Sec)","titleX":257,"titleY":20,"titleFont":"Liberation Serif","titleFontWeight":"normal","titleFontSize":12.5,"titleColor":"#333"}},"y":{"field":"v","type":"quantitative","scale":{"domain":[-184,3930],"range":[343,8],"nice":false,"zero":false},"axis":{"orient":"left","offset":-45.1,"values":[0,500,1000,1500,2000,2500,3000,3500],"format":"d","title":"Speed (rpm)","titleX":-30.3,"titleY":159.7,"titleFont":"Liberation Serif","titleFontWeight":"normal","titleFontSize":12.5,"titleColor":"#333"}}}},
  {"data":{"name":"one"},"mark":{"type":"point","shape":"M0.458,0C0.458,0.552,0.253,1,0,1C-0.253,1,-0.458,0.552,-0.458,0C-0.458,-0.552,-0.253,-1,0,-1C0.253,-1,0.458,-0.552,0.458,0Z","size":13596,"filled":false,"color":"#e8838d","strokeWidth":1,"opacity":1},"encoding":{"x":{"datum":0.0605,"type":"quantitative","scale":{"domain":[0,1.043],"range":[45.1,517.6],"nice":false,"zero":false},"axis":null},"y":{"datum":3152,"type":"quantitative","scale":{"domain":[-184,3930],"range":[343,8],"nice":false,"zero":false},"axis":null}}},
  {"data":{"name":"one"},"mark":{"type":"point","shape":"M0.256,0C0.256,0.552,0.141,1,0,1C-0.141,1,-0.256,0.552,-0.256,0C-0.256,-0.552,-0.141,-1,0,-1C0.141,-1,0.256,-0.552,0.256,0Z","size":50895,"filled":false,"color":"#e8838d","strokeWidth":1,"opacity":1},"encoding":{"x":{"datum":0.5102,"type":"quantitative","scale":{"domain":[0,1.043],"range":[45.1,517.6],"nice":false,"zero":false},"axis":null},"y":{"datum":1999,"type":"quantitative","scale":{"domain":[-184,3930],"range":[343,8],"nice":false,"zero":false},"axis":null}}},
  {"data":{"name":"one"},"mark":{"type":"point","shape":"M1,-0.6Q-0.1,-0.6,-0.45,0.2L-0.7,0.1L-0.65,0.95L-0.05,0.45L-0.28,0.35Q0.05,-0.35,1,-0.5Z","size":4624,"filled":true,"color":"#7cc84a","opacity":0.9,"strokeWidth":0},"encoding":{"x":{"datum":0.4093,"type":"quantitative","scale":{"domain":[0,1.043],"range":[45.1,517.6],"nice":false,"zero":false},"axis":null},"y":{"datum":1837,"type":"quantitative","scale":{"domain":[-184,3930],"range":[343,8],"nice":false,"zero":false},"axis":null}}},
  {"data":{"name":"a_r"},"mark":{"type":"rule","color":"#e8202a","strokeWidth":1.5},"encoding":{"x":{"field":"x","type":"quantitative","scale":{"domain":[0,1.043],"range":[45.1,517.6],"nice":false,"zero":false},"axis":null},"y":{"field":"y","type":"quantitative","scale":{"domain":[-184,3930],"range":[343,8],"nice":false,"zero":false},"axis":null},"x2":{"field":"x2"},"y2":{"field":"y2"}}},
  {"data":{"name":"a_lg"},"transform":[{"filter":"datum.k=='ref'"}],"mark":{"type":"rule","color":"#e8202a","strokeWidth":3},"encoding":{"x":{"field":"x","type":"quantitative","scale":{"domain":[0,1.043],"range":[45.1,517.6],"nice":false,"zero":false},"axis":null},"x2":{"field":"x2"},"y":{"field":"y","type":"quantitative","scale":{"domain":[-184,3930],"range":[343,8],"nice":false,"zero":false},"axis":null}}},
  {"data":{"name":"a_lg"},"transform":[{"filter":"datum.k=='ctrl'"}],"mark":{"type":"rule","color":"#66cc1f","strokeWidth":3},"encoding":{"x":{"field":"x","type":"quantitative","scale":{"domain":[0,1.043],"range":[45.1,517.6],"nice":false,"zero":false},"axis":null},"x2":{"field":"x2"},"y":{"field":"y","type":"quantitative","scale":{"domain":[-184,3930],"range":[343,8],"nice":false,"zero":false},"axis":null}}},
  {"data":{"name":"a_tc"},"mark":{"type":"text","align":"center","fontSize":12},"encoding":{"x":{"field":"x","type":"quantitative","scale":{"domain":[0,1.043],"range":[45.1,517.6],"nice":false,"zero":false},"axis":null},"y":{"field":"y","type":"quantitative","scale":{"domain":[-184,3930],"range":[343,8],"nice":false,"zero":false},"axis":null},"text":{"field":"text"}}},
  {"data":{"name":"a_tl"},"mark":{"type":"text","align":"left","fontSize":12},"encoding":{"x":{"field":"x","type":"quantitative","scale":{"domain":[0,1.043],"range":[45.1,517.6],"nice":false,"zero":false},"axis":null},"y":{"field":"y","type":"quantitative","scale":{"domain":[-184,3930],"range":[343,8],"nice":false,"zero":false},"axis":null},"text":{"field":"text"}}},
  {"data":{"name":"a_p"},"mark":{"type":"text","align":"left","fontSize":11},"encoding":{"x":{"field":"x","type":"quantitative","scale":{"domain":[0,1.043],"range":[45.1,517.6],"nice":false,"zero":false},"axis":null},"y":{"field":"y","type":"quantitative","scale":{"domain":[-184,3930],"range":[343,8],"nice":false,"zero":false},"axis":null},"text":{"field":"text"}}},
  {"data":{"name":"one"},"mark":{"type":"text","text":"(a)","fontSize":17,"fontWeight":"bold","color":"#111"},"encoding":{"x":{"datum":0.3453,"type":"quantitative","scale":{"domain":[0,1.043],"range":[45.1,517.6],"nice":false,"zero":false},"axis":null},"y":{"datum":-430,"type":"quantitative","scale":{"domain":[-184,3930],"range":[343,8],"nice":false,"zero":false},"axis":null}}},
  {"data":{"name":"one"},"mark":{"type":"rect","filled":false,"stroke":"#f19aa4","strokeWidth":1.2},"encoding":{"x":{"datum":0.4127,"type":"quantitative","scale":{"domain":[0.4904,0.74],"range":[121.3,235.7],"nice":false,"zero":false},"axis":null},"x2":{"datum":0.7598},"y":{"datum":338,"type":"quantitative","scale":{"domain":[733,3302],"range":[304.7,95.7],"nice":false,"zero":false},"axis":null},"y2":{"datum":3360}}},
  {"data":{"name":"one"},"mark":{"type":"rect","filled":false,"stroke":"#9c9c9c","strokeWidth":1.2},"encoding":{"x":{"datum":0.4904,"type":"quantitative","scale":{"domain":[0.4904,0.74],"range":[121.3,235.7],"nice":false,"zero":false},"axis":null},"x2":{"datum":0.74},"y":{"datum":733,"type":"quantitative","scale":{"domain":[733,3302],"range":[304.7,95.7],"nice":false,"zero":false},"axis":null},"y2":{"datum":3302}}},
  {"data":{"name":"a_i"},"mark":{"type":"line","color":"#66cc1f","strokeWidth":2},"encoding":{"x":{"field":"t","type":"quantitative","scale":{"domain":[0.4904,0.74],"range":[121.3,235.7],"nice":false,"zero":false},"axis":{"orient":"bottom","offset":-79.3,"values":[0.5,0.6,0.7],"format":".1f","labelFontSize":5.5,"title":"Time (Sec)","titleX":175.7,"titleY":24.3,"titleFont":"Liberation Serif","titleFontWeight":"normal","titleFontSize":12.5,"titleColor":"#333"}},"y":{"field":"v","type":"quantitative","scale":{"domain":[733,3302],"range":[304.7,95.7],"nice":false,"zero":false},"axis":{"orient":"left","offset":-121.3,"values":[1000,1500,2000,2500,3000],"format":"d","labelFontSize":5.5,"title":"Speed (rpm)","titleX":-29,"titleY":193,"titleFont":"Liberation Serif","titleFontWeight":"normal","titleFontSize":12.5,"titleColor":"#333"}}}},
  {"data":{"name":"a_ir"},"mark":{"type":"rule","color":"#e8202a","strokeWidth":1.5},"encoding":{"x":{"field":"x","type":"quantitative","scale":{"domain":[0.4904,0.74],"range":[121.3,235.7],"nice":false,"zero":false},"axis":null},"y":{"field":"y","type":"quantitative","scale":{"domain":[733,3302],"range":[304.7,95.7],"nice":false,"zero":false},"axis":null},"x2":{"field":"x2"},"y2":{"field":"y2"}}},
  {"data":{"name":"a_it"},"mark":{"type":"text","align":"left","fontSize":12},"encoding":{"x":{"field":"x","type":"quantitative","scale":{"domain":[0.4904,0.74],"range":[121.3,235.7],"nice":false,"zero":false},"axis":null},"y":{"field":"y","type":"quantitative","scale":{"domain":[733,3302],"range":[304.7,95.7],"nice":false,"zero":false},"axis":null},"text":{"field":"text"}}}
 ]},
{"width":530,"height":384,"view":{"stroke":"#000","strokeWidth":2},
 "resolve":{"scale":{"x":"independent","y":"independent"},"axis":{"x":"independent","y":"independent"}},
 "layer":[
  {"data":{"name":"one"},"mark":{"type":"rect","filled":false,"stroke":"#9c9c9c","strokeWidth":1.2},"encoding":{"x":{"datum":-0.0198,"type":"quantitative","scale":{"domain":[-0.0198,1.0094],"range":[43.8,516.8],"nice":false,"zero":false},"axis":null},"x2":{"datum":1.0094},"y":{"datum":-110,"type":"quantitative","scale":{"domain":[-110,3621],"range":[349.7,10.3],"nice":false,"zero":false},"axis":null},"y2":{"datum":3621}}},
  {"data":{"name":"one"},"mark":{"type":"rule","color":"#ee7676","strokeWidth":1},"encoding":{"x":{"datum":-0.0198,"type":"quantitative","scale":{"domain":[-0.0198,1.0094],"range":[43.8,516.8],"nice":false,"zero":false},"axis":null},"x2":{"datum":1},"y":{"datum":3000,"type":"quantitative","scale":{"domain":[-110,3621],"range":[349.7,10.3],"nice":false,"zero":false},"axis":null}}},
  {"data":{"name":"b_s"},"mark":{"type":"line","color":"#66cc1f","strokeWidth":2},"encoding":{"x":{"field":"t","type":"quantitative","scale":{"domain":[-0.0198,1.0094],"range":[43.8,516.8],"nice":false,"zero":false},"axis":{"orient":"bottom","offset":-34.3,"values":[0,0.1,0.2,0.3,0.4,0.5,0.6,0.7,0.8,0.9,1],"labelExpr":"datum.value==0?'0':format(datum.value,'.1f')","title":"Time (Sec)","titleX":271,"titleY":20,"titleFont":"Liberation Serif","titleFontWeight":"normal","titleFontSize":12.5,"titleColor":"#333"}},"y":{"field":"v","type":"quantitative","scale":{"domain":[-110,3621],"range":[349.7,10.3],"nice":false,"zero":false},"axis":{"orient":"left","offset":-43.8,"values":[0,500,1000,1500,2000,2500,3000,3500],"format":"d","title":"Speed (rpm)","titleX":-28.6,"titleY":183,"titleFont":"Liberation Serif","titleFontWeight":"normal","titleFontSize":12.5,"titleColor":"#333"}}}},
  {"data":{"name":"one"},"mark":{"type":"point","shape":"M0.71,0C0.71,0.552,0.392,1,0,1C-0.392,1,-0.71,0.552,-0.71,0C-0.71,-0.552,-0.392,-1,0,-1C0.392,-1,0.71,-0.552,0.71,0Z","size":8391,"filled":false,"color":"#e8838d","strokeWidth":1,"opacity":1},"encoding":{"x":{"datum":0.0764,"type":"quantitative","scale":{"domain":[-0.0198,1.0094],"range":[43.8,516.8],"nice":false,"zero":false},"axis":null},"y":{"datum":3051,"type":"quantitative","scale":{"domain":[-110,3621],"range":[349.7,10.3],"nice":false,"zero":false},"axis":null}}},
  {"data":{"name":"one"},"mark":{"type":"point","shape":"M0.389,0C0.389,0.552,0.215,1,0,1C-0.215,1,-0.389,0.552,-0.389,0C-0.389,-0.552,-0.215,-1,0,-1C0.215,-1,0.389,-0.552,0.389,0Z","size":22983,"filled":false,"color":"#e8838d","strokeWidth":1,"opacity":1},"encoding":{"x":{"datum":0.5094,"type":"quantitative","scale":{"domain":[-0.0198,1.0094],"range":[43.8,516.8],"nice":false,"zero":false},"axis":null},"y":{"datum":2476,"type":"quantitative","scale":{"domain":[-110,3621],"range":[349.7,10.3],"nice":false,"zero":false},"axis":null}}},
  {"data":{"name":"one"},"mark":{"type":"point","shape":"M1,-0.6Q-0.1,-0.6,-0.45,0.2L-0.7,0.1L-0.65,0.95L-0.05,0.45L-0.28,0.35Q0.05,-0.35,1,-0.5Z","size":4624,"filled":true,"color":"#7cc84a","opacity":0.9,"strokeWidth":0},"encoding":{"x":{"datum":0.3566,"type":"quantitative","scale":{"domain":[-0.0198,1.0094],"range":[43.8,516.8],"nice":false,"zero":false},"axis":null},"y":{"datum":2359,"type":"quantitative","scale":{"domain":[-110,3621],"range":[349.7,10.3],"nice":false,"zero":false},"axis":null}}},
  {"data":{"name":"b_r"},"mark":{"type":"rule","color":"#e8202a","strokeWidth":1.5},"encoding":{"x":{"field":"x","type":"quantitative","scale":{"domain":[-0.0198,1.0094],"range":[43.8,516.8],"nice":false,"zero":false},"axis":null},"y":{"field":"y","type":"quantitative","scale":{"domain":[-110,3621],"range":[349.7,10.3],"nice":false,"zero":false},"axis":null},"x2":{"field":"x2"},"y2":{"field":"y2"}}},
  {"data":{"name":"b_lg"},"transform":[{"filter":"datum.k=='ref'"}],"mark":{"type":"rule","color":"#e8202a","strokeWidth":3},"encoding":{"x":{"field":"x","type":"quantitative","scale":{"domain":[-0.0198,1.0094],"range":[43.8,516.8],"nice":false,"zero":false},"axis":null},"x2":{"field":"x2"},"y":{"field":"y","type":"quantitative","scale":{"domain":[-110,3621],"range":[349.7,10.3],"nice":false,"zero":false},"axis":null}}},
  {"data":{"name":"b_lg"},"transform":[{"filter":"datum.k=='ctrl'"}],"mark":{"type":"rule","color":"#66cc1f","strokeWidth":3},"encoding":{"x":{"field":"x","type":"quantitative","scale":{"domain":[-0.0198,1.0094],"range":[43.8,516.8],"nice":false,"zero":false},"axis":null},"x2":{"field":"x2"},"y":{"field":"y","type":"quantitative","scale":{"domain":[-110,3621],"range":[349.7,10.3],"nice":false,"zero":false},"axis":null}}},
  {"data":{"name":"b_tc"},"mark":{"type":"text","align":"center","fontSize":12},"encoding":{"x":{"field":"x","type":"quantitative","scale":{"domain":[-0.0198,1.0094],"range":[43.8,516.8],"nice":false,"zero":false},"axis":null},"y":{"field":"y","type":"quantitative","scale":{"domain":[-110,3621],"range":[349.7,10.3],"nice":false,"zero":false},"axis":null},"text":{"field":"text"}}},
  {"data":{"name":"b_tl"},"mark":{"type":"text","align":"left","fontSize":12},"encoding":{"x":{"field":"x","type":"quantitative","scale":{"domain":[-0.0198,1.0094],"range":[43.8,516.8],"nice":false,"zero":false},"axis":null},"y":{"field":"y","type":"quantitative","scale":{"domain":[-110,3621],"range":[349.7,10.3],"nice":false,"zero":false},"axis":null},"text":{"field":"text"}}},
  {"data":{"name":"b_lt"},"mark":{"type":"text","align":"left","fontSize":11},"encoding":{"x":{"field":"x","type":"quantitative","scale":{"domain":[-0.0198,1.0094],"range":[43.8,516.8],"nice":false,"zero":false},"axis":null},"y":{"field":"y","type":"quantitative","scale":{"domain":[-110,3621],"range":[349.7,10.3],"nice":false,"zero":false},"axis":null},"text":{"field":"text"}}},
  {"data":{"name":"b_p"},"mark":{"type":"text","align":"left","fontSize":11},"encoding":{"x":{"field":"x","type":"quantitative","scale":{"domain":[-0.0198,1.0094],"range":[43.8,516.8],"nice":false,"zero":false},"axis":null},"y":{"field":"y","type":"quantitative","scale":{"domain":[-110,3621],"range":[349.7,10.3],"nice":false,"zero":false},"axis":null},"text":{"field":"text"}}},
  {"data":{"name":"one"},"mark":{"type":"text","text":"(b)","fontSize":17,"fontWeight":"bold","color":"#111"},"encoding":{"x":{"datum":0.3612,"type":"quantitative","scale":{"domain":[-0.0198,1.0094],"range":[43.8,516.8],"nice":false,"zero":false},"axis":null},"y":{"datum":-347,"type":"quantitative","scale":{"domain":[-110,3621],"range":[349.7,10.3],"nice":false,"zero":false},"axis":null}}},
  {"data":{"name":"one"},"mark":{"type":"rect","filled":false,"stroke":"#f19aa4","strokeWidth":1.2},"encoding":{"x":{"datum":0.3938,"type":"quantitative","scale":{"domain":[0.474,0.7615],"range":[103.3,234],"nice":false,"zero":false},"axis":null},"x2":{"datum":0.7895},"y":{"datum":1298,"type":"quantitative","scale":{"domain":[1644,3327],"range":[302.3,153],"nice":false,"zero":false},"axis":null},"y2":{"datum":3364}}},
  {"data":{"name":"one"},"mark":{"type":"rect","filled":false,"stroke":"#9c9c9c","strokeWidth":1.2},"encoding":{"x":{"datum":0.474,"type":"quantitative","scale":{"domain":[0.474,0.7615],"range":[103.3,234],"nice":false,"zero":false},"axis":null},"x2":{"datum":0.7615},"y":{"datum":1644,"type":"quantitative","scale":{"domain":[1644,3327],"range":[302.3,153],"nice":false,"zero":false},"axis":null},"y2":{"datum":3327}}},
  {"data":{"name":"b_i"},"mark":{"type":"line","color":"#66cc1f","strokeWidth":2},"encoding":{"x":{"field":"t","type":"quantitative","scale":{"domain":[0.474,0.7615],"range":[103.3,234],"nice":false,"zero":false},"axis":{"orient":"bottom","offset":-81.7,"values":[0.5,0.6,0.7],"format":".1f","labelFontSize":5.5,"title":"Time (Sec)","titleX":170,"titleY":20.7,"titleFont":"Liberation Serif","titleFontWeight":"normal","titleFontSize":12.5,"titleColor":"#333"}},"y":{"field":"v","type":"quantitative","scale":{"domain":[1644,3327],"range":[302.3,153],"nice":false,"zero":false},"axis":{"orient":"left","offset":-103.3,"values":[2000,2500,3000],"format":"d","labelFontSize":5.5,"title":"Speed (rpm)","titleX":-27.3,"titleY":226.3,"titleFont":"Liberation Serif","titleFontWeight":"normal","titleFontSize":12.5,"titleColor":"#333"}}}},
  {"data":{"name":"b_ir"},"mark":{"type":"rule","color":"#e8202a","strokeWidth":1.5},"encoding":{"x":{"field":"x","type":"quantitative","scale":{"domain":[0.474,0.7615],"range":[103.3,234],"nice":false,"zero":false},"axis":null},"y":{"field":"y","type":"quantitative","scale":{"domain":[1644,3327],"range":[302.3,153],"nice":false,"zero":false},"axis":null},"x2":{"field":"x2"},"y2":{"field":"y2"}}},
  {"data":{"name":"b_it"},"mark":{"type":"text","align":"left","fontSize":12},"encoding":{"x":{"field":"x","type":"quantitative","scale":{"domain":[0.474,0.7615],"range":[103.3,234],"nice":false,"zero":false},"axis":null},"y":{"field":"y","type":"quantitative","scale":{"domain":[1644,3327],"range":[302.3,153],"nice":false,"zero":false},"axis":null},"text":{"field":"text"}}}
 ]},
{"width":529,"height":385,"view":{"stroke":"#000","strokeWidth":2},
 "resolve":{"scale":{"x":"independent","y":"independent"},"axis":{"x":"independent","y":"independent"}},
 "layer":[
  {"data":{"name":"one"},"mark":{"type":"rect","filled":false,"stroke":"#9c9c9c","strokeWidth":1.2},"encoding":{"x":{"datum":-0.0189,"type":"quantitative","scale":{"domain":[-0.0189,1.0228],"range":[42.4,517.6],"nice":false,"zero":false},"axis":null},"x2":{"datum":1.0228},"y":{"datum":-98,"type":"quantitative","scale":{"domain":[-98,3202],"range":[347.3,10.7],"nice":false,"zero":false},"axis":null},"y2":{"datum":3202}}},
  {"data":{"name":"one"},"mark":{"type":"rule","color":"#ee7676","strokeWidth":1},"encoding":{"x":{"datum":-0.0189,"type":"quantitative","scale":{"domain":[-0.0189,1.0228],"range":[42.4,517.6],"nice":false,"zero":false},"axis":null},"x2":{"datum":1},"y":{"datum":3000,"type":"quantitative","scale":{"domain":[-98,3202],"range":[347.3,10.7],"nice":false,"zero":false},"axis":null}}},
  {"data":{"name":"c_s"},"mark":{"type":"line","color":"#66cc1f","strokeWidth":1.8},"encoding":{"x":{"field":"t","type":"quantitative","scale":{"domain":[-0.0189,1.0228],"range":[42.4,517.6],"nice":false,"zero":false},"axis":{"orient":"bottom","offset":-37.7,"values":[0,0.1,0.2,0.3,0.4,0.5,0.6,0.7,0.8,0.9,1],"labelExpr":"datum.value==0?'0':format(datum.value,'.1f')","title":"Time (Sec)","titleX":275.8,"titleY":22.4,"titleFont":"Liberation Serif","titleFontWeight":"normal","titleFontSize":12.5,"titleColor":"#333"}},"y":{"field":"v","type":"quantitative","scale":{"domain":[-98,3202],"range":[347.3,10.7],"nice":false,"zero":false},"axis":{"orient":"left","offset":-42.4,"values":[0,300,600,900,1200,1500,1800,2100,2400,2700,3000],"format":"d","title":"Speed (rpm)","titleX":-29.4,"titleY":155.7,"titleFont":"Liberation Serif","titleFontWeight":"normal","titleFontSize":12.5,"titleColor":"#333"}}}},
  {"data":{"name":"one"},"mark":{"type":"point","shape":"M1,0C1,0.23,0.552,0.417,0,0.417C-0.552,0.417,-1,0.23,-1,0C-1,-0.23,-0.552,-0.417,0,-0.417C0.552,-0.417,1,-0.23,1,0Z","size":6432,"filled":false,"color":"#e8838d","strokeWidth":1,"opacity":1},"encoding":{"x":{"datum":0.0993,"type":"quantitative","scale":{"domain":[-0.0189,1.0228],"range":[42.4,517.6],"nice":false,"zero":false},"axis":null},"y":{"datum":2990,"type":"quantitative","scale":{"domain":[-98,3202],"range":[347.3,10.7],"nice":false,"zero":false},"axis":null}}},
  {"data":{"name":"one"},"mark":{"type":"point","shape":"M0.62,0C0.62,0.552,0.342,1,0,1C-0.342,1,-0.62,0.552,-0.62,0C-0.62,-0.552,-0.342,-1,0,-1C0.342,-1,0.62,-0.552,0.62,0Z","size":10000,"filled":false,"color":"#e8838d","strokeWidth":1,"opacity":1},"encoding":{"x":{"datum":0.5283,"type":"quantitative","scale":{"domain":[-0.0189,1.0228],"range":[42.4,517.6],"nice":false,"zero":false},"axis":null},"y":{"datum":2689,"type":"quantitative","scale":{"domain":[-98,3202],"range":[347.3,10.7],"nice":false,"zero":false},"axis":null}}},
  {"data":{"name":"one"},"mark":{"type":"point","shape":"M1,-0.6Q-0.1,-0.6,-0.45,0.2L-0.7,0.1L-0.65,0.95L-0.05,0.45L-0.28,0.35Q0.05,-0.35,1,-0.5Z","size":4624,"filled":true,"color":"#7cc84a","opacity":0.9,"strokeWidth":0},"encoding":{"x":{"datum":0.3858,"type":"quantitative","scale":{"domain":[-0.0189,1.0228],"range":[42.4,517.6],"nice":false,"zero":false},"axis":null},"y":{"datum":2234,"type":"quantitative","scale":{"domain":[-98,3202],"range":[347.3,10.7],"nice":false,"zero":false},"axis":null}}},
  {"data":{"name":"c_r"},"mark":{"type":"rule","color":"#e8202a","strokeWidth":1.5},"encoding":{"x":{"field":"x","type":"quantitative","scale":{"domain":[-0.0189,1.0228],"range":[42.4,517.6],"nice":false,"zero":false},"axis":null},"y":{"field":"y","type":"quantitative","scale":{"domain":[-98,3202],"range":[347.3,10.7],"nice":false,"zero":false},"axis":null},"x2":{"field":"x2"},"y2":{"field":"y2"}}},
  {"data":{"name":"c_lg"},"transform":[{"filter":"datum.k=='ref'"}],"mark":{"type":"rule","color":"#e8202a","strokeWidth":3},"encoding":{"x":{"field":"x","type":"quantitative","scale":{"domain":[-0.0189,1.0228],"range":[42.4,517.6],"nice":false,"zero":false},"axis":null},"x2":{"field":"x2"},"y":{"field":"y","type":"quantitative","scale":{"domain":[-98,3202],"range":[347.3,10.7],"nice":false,"zero":false},"axis":null}}},
  {"data":{"name":"c_lg"},"transform":[{"filter":"datum.k=='ctrl'"}],"mark":{"type":"rule","color":"#66cc1f","strokeWidth":3},"encoding":{"x":{"field":"x","type":"quantitative","scale":{"domain":[-0.0189,1.0228],"range":[42.4,517.6],"nice":false,"zero":false},"axis":null},"x2":{"field":"x2"},"y":{"field":"y","type":"quantitative","scale":{"domain":[-98,3202],"range":[347.3,10.7],"nice":false,"zero":false},"axis":null}}},
  {"data":{"name":"c_tc"},"mark":{"type":"text","align":"center","fontSize":12},"encoding":{"x":{"field":"x","type":"quantitative","scale":{"domain":[-0.0189,1.0228],"range":[42.4,517.6],"nice":false,"zero":false},"axis":null},"y":{"field":"y","type":"quantitative","scale":{"domain":[-98,3202],"range":[347.3,10.7],"nice":false,"zero":false},"axis":null},"text":{"field":"text"}}},
  {"data":{"name":"c_tl"},"mark":{"type":"text","align":"left","fontSize":12},"encoding":{"x":{"field":"x","type":"quantitative","scale":{"domain":[-0.0189,1.0228],"range":[42.4,517.6],"nice":false,"zero":false},"axis":null},"y":{"field":"y","type":"quantitative","scale":{"domain":[-98,3202],"range":[347.3,10.7],"nice":false,"zero":false},"axis":null},"text":{"field":"text"}}},
  {"data":{"name":"c_lt"},"mark":{"type":"text","align":"left","fontSize":11.3},"encoding":{"x":{"field":"x","type":"quantitative","scale":{"domain":[-0.0189,1.0228],"range":[42.4,517.6],"nice":false,"zero":false},"axis":null},"y":{"field":"y","type":"quantitative","scale":{"domain":[-98,3202],"range":[347.3,10.7],"nice":false,"zero":false},"axis":null},"text":{"field":"text"}}},
  {"data":{"name":"c_p"},"mark":{"type":"text","align":"left","fontSize":11},"encoding":{"x":{"field":"x","type":"quantitative","scale":{"domain":[-0.0189,1.0228],"range":[42.4,517.6],"nice":false,"zero":false},"axis":null},"y":{"field":"y","type":"quantitative","scale":{"domain":[-98,3202],"range":[347.3,10.7],"nice":false,"zero":false},"axis":null},"text":{"field":"text"}}},
  {"data":{"name":"one"},"mark":{"type":"text","text":"(c)","fontSize":17,"fontWeight":"bold","color":"#111"},"encoding":{"x":{"datum":0.3321,"type":"quantitative","scale":{"domain":[-0.0189,1.0228],"range":[42.4,517.6],"nice":false,"zero":false},"axis":null},"y":{"datum":-327,"type":"quantitative","scale":{"domain":[-98,3202],"range":[347.3,10.7],"nice":false,"zero":false},"axis":null}}},
  {"data":{"name":"one"},"mark":{"type":"rect","filled":false,"stroke":"#f19aa4","strokeWidth":1.2},"encoding":{"x":{"datum":0.3874,"type":"quantitative","scale":{"domain":[0.478,0.765],"range":[120,250],"nice":false,"zero":false},"axis":null},"x2":{"datum":0.7907},"y":{"datum":1866,"type":"quantitative","scale":{"domain":[2176,3493],"range":[274.7,143],"nice":false,"zero":false},"axis":null},"y2":{"datum":3550}}},
  {"data":{"name":"one"},"mark":{"type":"rect","filled":false,"stroke":"#9c9c9c","strokeWidth":1.2},"encoding":{"x":{"datum":0.478,"type":"quantitative","scale":{"domain":[0.478,0.765],"range":[120,250],"nice":false,"zero":false},"axis":null},"x2":{"datum":0.765},"y":{"datum":2176,"type":"quantitative","scale":{"domain":[2176,3493],"range":[274.7,143],"nice":false,"zero":false},"axis":null},"y2":{"datum":3493}}},
  {"data":{"name":"c_i"},"mark":{"type":"line","color":"#66cc1f","strokeWidth":2},"encoding":{"x":{"field":"t","type":"quantitative","scale":{"domain":[0.478,0.765],"range":[120,250],"nice":false,"zero":false},"axis":{"orient":"bottom","offset":-110.3,"values":[0.5,0.6,0.7],"format":".1f","labelFontSize":5.5,"title":"Time (Sec)","titleX":185.7,"titleY":17.6,"titleFont":"Liberation Serif","titleFontWeight":"normal","titleFontSize":12.5,"titleColor":"#333"}},"y":{"field":"v","type":"quantitative","scale":{"domain":[2176,3493],"range":[274.7,143],"nice":false,"zero":false},"axis":{"orient":"left","offset":-120,"values":[2400,2700,3000,3300],"format":"d","labelFontSize":5.5,"title":"Speed (rpm)","titleX":-27.7,"titleY":205.7,"titleFont":"Liberation Serif","titleFontWeight":"normal","titleFontSize":12.5,"titleColor":"#333"}}}},
  {"data":{"name":"c_ir"},"mark":{"type":"rule","color":"#e8202a","strokeWidth":1.5},"encoding":{"x":{"field":"x","type":"quantitative","scale":{"domain":[0.478,0.765],"range":[120,250],"nice":false,"zero":false},"axis":null},"y":{"field":"y","type":"quantitative","scale":{"domain":[2176,3493],"range":[274.7,143],"nice":false,"zero":false},"axis":null},"x2":{"field":"x2"},"y2":{"field":"y2"}}},
  {"data":{"name":"c_it"},"mark":{"type":"text","align":"left","fontSize":12},"encoding":{"x":{"field":"x","type":"quantitative","scale":{"domain":[0.478,0.765],"range":[120,250],"nice":false,"zero":false},"axis":null},"y":{"field":"y","type":"quantitative","scale":{"domain":[2176,3493],"range":[274.7,143],"nice":false,"zero":false},"axis":null},"text":{"field":"text"}}}
 ]},
{"width":530,"height":385,"view":{"stroke":"#000","strokeWidth":2},
 "resolve":{"scale":{"x":"independent","y":"independent"},"axis":{"x":"independent","y":"independent"}},
 "layer":[
  {"data":{"name":"one"},"mark":{"type":"rect","filled":false,"stroke":"#9c9c9c","strokeWidth":1.2},"encoding":{"x":{"datum":-0.0176,"type":"quantitative","scale":{"domain":[-0.0176,1.018],"range":[44.8,521.9],"nice":false,"zero":false},"axis":null},"x2":{"datum":1.018},"y":{"datum":-105,"type":"quantitative","scale":{"domain":[-105,3150],"range":[347.3,7.3],"nice":false,"zero":false},"axis":null},"y2":{"datum":3150}}},
  {"data":{"name":"one"},"mark":{"type":"rule","color":"#e07a3c","strokeWidth":1.2},"encoding":{"x":{"datum":-0.0176,"type":"quantitative","scale":{"domain":[-0.0176,1.018],"range":[44.8,521.9],"nice":false,"zero":false},"axis":null},"x2":{"datum":1},"y":{"datum":3000,"type":"quantitative","scale":{"domain":[-105,3150],"range":[347.3,7.3],"nice":false,"zero":false},"axis":null}}},
  {"data":{"name":"d_s"},"mark":{"type":"line","color":"#66cc1f","strokeWidth":1.8,"opacity":0.85},"encoding":{"x":{"field":"t","type":"quantitative","scale":{"domain":[-0.0176,1.018],"range":[44.8,521.9],"nice":false,"zero":false},"axis":{"orient":"bottom","offset":-37.7,"values":[0,0.1,0.2,0.3,0.4,0.5,0.6,0.7,0.8,0.9,1],"labelExpr":"datum.value==0?'0':format(datum.value,'.1f')","title":"Time (Sec)","titleX":266,"titleY":20,"titleFont":"Liberation Serif","titleFontWeight":"normal","titleFontSize":12.5,"titleColor":"#333"}},"y":{"field":"v","type":"quantitative","scale":{"domain":[-105,3150],"range":[347.3,7.3],"nice":false,"zero":false},"axis":{"orient":"left","offset":-44.8,"values":[0,300,600,900,1200,1500,1800,2100,2400,2700,3000],"format":"d","title":"Speed (rpm)","titleX":-29.6,"titleY":169,"titleFont":"Liberation Serif","titleFontWeight":"normal","titleFontSize":12.5,"titleColor":"#333"}}}},
  {"data":{"name":"one"},"mark":{"type":"point","shape":"M1,0C1,0.201,0.552,0.364,0,0.364C-0.552,0.364,-1,0.201,-1,0C-1,-0.201,-0.552,-0.364,0,-0.364C0.552,-0.364,1,-0.201,1,0Z","size":6790,"filled":false,"color":"#e8838d","strokeWidth":1,"opacity":1},"encoding":{"x":{"datum":0.0953,"type":"quantitative","scale":{"domain":[-0.0176,1.018],"range":[44.8,521.9],"nice":false,"zero":false},"axis":null},"y":{"datum":2943,"type":"quantitative","scale":{"domain":[-105,3150],"range":[347.3,7.3],"nice":false,"zero":false},"axis":null}}},
  {"data":{"name":"one"},"mark":{"type":"point","shape":"M1,0C1,0.274,0.552,0.497,0,0.497C-0.552,0.497,-1,0.274,-1,0C-1,-0.274,-0.552,-0.497,0,-0.497C0.552,-0.497,1,-0.274,1,0Z","size":8575,"filled":false,"color":"#e8838d","strokeWidth":1,"opacity":1},"encoding":{"x":{"datum":0.5339,"type":"quantitative","scale":{"domain":[-0.0176,1.018],"range":[44.8,521.9],"nice":false,"zero":false},"axis":null},"y":{"datum":2876,"type":"quantitative","scale":{"domain":[-105,3150],"range":[347.3,7.3],"nice":false,"zero":false},"axis":null}}},
  {"data":{"name":"one"},"mark":{"type":"point","shape":"M1,-0.6Q-0.1,-0.6,-0.45,0.2L-0.7,0.1L-0.65,0.95L-0.05,0.45L-0.28,0.35Q0.05,-0.35,1,-0.5Z","size":4624,"filled":true,"color":"#7cc84a","opacity":0.9,"strokeWidth":0},"encoding":{"x":{"datum":0.3671,"type":"quantitative","scale":{"domain":[-0.0176,1.018],"range":[44.8,521.9],"nice":false,"zero":false},"axis":null},"y":{"datum":2540,"type":"quantitative","scale":{"domain":[-105,3150],"range":[347.3,7.3],"nice":false,"zero":false},"axis":null}}},
  {"data":{"name":"d_r"},"mark":{"type":"rule","color":"#e8202a","strokeWidth":1.5},"encoding":{"x":{"field":"x","type":"quantitative","scale":{"domain":[-0.0176,1.018],"range":[44.8,521.9],"nice":false,"zero":false},"axis":null},"y":{"field":"y","type":"quantitative","scale":{"domain":[-105,3150],"range":[347.3,7.3],"nice":false,"zero":false},"axis":null},"x2":{"field":"x2"},"y2":{"field":"y2"}}},
  {"data":{"name":"d_lg"},"transform":[{"filter":"datum.k=='ref'"}],"mark":{"type":"rule","color":"#e8202a","strokeWidth":3},"encoding":{"x":{"field":"x","type":"quantitative","scale":{"domain":[-0.0176,1.018],"range":[44.8,521.9],"nice":false,"zero":false},"axis":null},"x2":{"field":"x2"},"y":{"field":"y","type":"quantitative","scale":{"domain":[-105,3150],"range":[347.3,7.3],"nice":false,"zero":false},"axis":null}}},
  {"data":{"name":"d_lg"},"transform":[{"filter":"datum.k=='ctrl'"}],"mark":{"type":"rule","color":"#66cc1f","strokeWidth":3},"encoding":{"x":{"field":"x","type":"quantitative","scale":{"domain":[-0.0176,1.018],"range":[44.8,521.9],"nice":false,"zero":false},"axis":null},"x2":{"field":"x2"},"y":{"field":"y","type":"quantitative","scale":{"domain":[-105,3150],"range":[347.3,7.3],"nice":false,"zero":false},"axis":null}}},
  {"data":{"name":"d_tc"},"mark":{"type":"text","align":"center","fontSize":12},"encoding":{"x":{"field":"x","type":"quantitative","scale":{"domain":[-0.0176,1.018],"range":[44.8,521.9],"nice":false,"zero":false},"axis":null},"y":{"field":"y","type":"quantitative","scale":{"domain":[-105,3150],"range":[347.3,7.3],"nice":false,"zero":false},"axis":null},"text":{"field":"text"}}},
  {"data":{"name":"d_tl"},"mark":{"type":"text","align":"left","fontSize":12},"encoding":{"x":{"field":"x","type":"quantitative","scale":{"domain":[-0.0176,1.018],"range":[44.8,521.9],"nice":false,"zero":false},"axis":null},"y":{"field":"y","type":"quantitative","scale":{"domain":[-105,3150],"range":[347.3,7.3],"nice":false,"zero":false},"axis":null},"text":{"field":"text"}}},
  {"data":{"name":"d_lc"},"mark":{"type":"text","align":"center","fontSize":10.7},"encoding":{"x":{"field":"x","type":"quantitative","scale":{"domain":[-0.0176,1.018],"range":[44.8,521.9],"nice":false,"zero":false},"axis":null},"y":{"field":"y","type":"quantitative","scale":{"domain":[-105,3150],"range":[347.3,7.3],"nice":false,"zero":false},"axis":null},"text":{"field":"text"}}},
  {"data":{"name":"d_p"},"mark":{"type":"text","align":"left","fontSize":11},"encoding":{"x":{"field":"x","type":"quantitative","scale":{"domain":[-0.0176,1.018],"range":[44.8,521.9],"nice":false,"zero":false},"axis":null},"y":{"field":"y","type":"quantitative","scale":{"domain":[-105,3150],"range":[347.3,7.3],"nice":false,"zero":false},"axis":null},"text":{"field":"text"}}},
  {"data":{"name":"one"},"mark":{"type":"text","text":"(d)","fontSize":17,"fontWeight":"bold","color":"#111"},"encoding":{"x":{"datum":0.3274,"type":"quantitative","scale":{"domain":[-0.0176,1.018],"range":[44.8,521.9],"nice":false,"zero":false},"axis":null},"y":{"datum":-313,"type":"quantitative","scale":{"domain":[-105,3150],"range":[347.3,7.3],"nice":false,"zero":false},"axis":null}}},
  {"data":{"name":"d_pk"},"mark":{"type":"rule","color":"#f19aa4","strokeWidth":1.2},"encoding":{"x":{"field":"x","type":"quantitative","scale":{"domain":[0.4252,0.8333],"range":[118.3,306],"nice":false,"zero":false},"axis":null},"y":{"field":"y","type":"quantitative","scale":{"domain":[1971,3423],"range":[257.3,107.3],"nice":false,"zero":false},"axis":null},"x2":{"field":"x2"},"y2":{"field":"y2"}}},
  {"data":{"name":"one"},"mark":{"type":"rect","filled":false,"stroke":"#9c9c9c","strokeWidth":1.2},"encoding":{"x":{"datum":0.4252,"type":"quantitative","scale":{"domain":[0.4252,0.8333],"range":[118.3,306],"nice":false,"zero":false},"axis":null},"x2":{"datum":0.8333},"y":{"datum":1971,"type":"quantitative","scale":{"domain":[1971,3423],"range":[257.3,107.3],"nice":false,"zero":false},"axis":null},"y2":{"datum":3423}}},
  {"data":{"name":"d_i"},"mark":{"type":"line","color":"#66cc1f","strokeWidth":1.8},"encoding":{"x":{"field":"t","type":"quantitative","scale":{"domain":[0.4252,0.8333],"range":[118.3,306],"nice":false,"zero":false},"axis":{"orient":"bottom","offset":-127.7,"values":[0.5,0.6,0.7,0.8],"format":".1f","labelFontSize":5.5,"title":"Time (Sec)","titleX":200,"titleY":20,"titleFont":"Liberation Serif","titleFontWeight":"normal","titleFontSize":12.5,"titleColor":"#333"}},"y":{"field":"v","type":"quantitative","scale":{"domain":[1971,3423],"range":[257.3,107.3],"nice":false,"zero":false},"axis":{"orient":"left","offset":-118.3,"values":[2100,2400,2700,3000,3300],"format":"d","labelFontSize":5.5,"title":"Speed (rpm)","titleX":-31.6,"titleY":189,"titleFont":"Liberation Serif","titleFontWeight":"normal","titleFontSize":12.5,"titleColor":"#333"}}}},
  {"data":{"name":"d_ir"},"mark":{"type":"rule","color":"#e8202a","strokeWidth":1.5},"encoding":{"x":{"field":"x","type":"quantitative","scale":{"domain":[0.4252,0.8333],"range":[118.3,306],"nice":false,"zero":false},"axis":null},"y":{"field":"y","type":"quantitative","scale":{"domain":[1971,3423],"range":[257.3,107.3],"nice":false,"zero":false},"axis":null},"x2":{"field":"x2"},"y2":{"field":"y2"}}},
  {"data":{"name":"d_it"},"mark":{"type":"text","align":"center","fontSize":12},"encoding":{"x":{"field":"x","type":"quantitative","scale":{"domain":[0.4252,0.8333],"range":[118.3,306],"nice":false,"zero":false},"axis":null},"y":{"field":"y","type":"quantitative","scale":{"domain":[1971,3423],"range":[257.3,107.3],"nice":false,"zero":false},"axis":null},"text":{"field":"text"}}}
 ]}
]
}
